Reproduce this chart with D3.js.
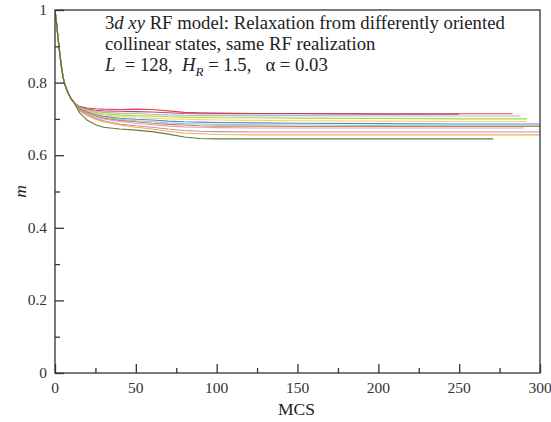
<!DOCTYPE html>
<html>
<head>
<meta charset="utf-8">
<script src="https://cdn.jsdelivr.net/npm/d3@7"></script>
<style>
  body { margin: 0; background: #fff; }
  svg text { font-family: "Liberation Serif", "DejaVu Serif", "Times New Roman", Times, serif; }
</style>
</head>
<body>
<svg id="chart" width="551" height="422"></svg>
<script>
// sample times (MCS) shared by all runs
const times = [0, 1, 2, 3, 4, 5, 6, 8, 10, 12, 15, 20, 25, 30, 40, 50, 60, 70, 80, 90, 100, 125, 150, 200, 250];
const early = [1.0, 0.962, 0.918, 0.878, 0.843, 0.815, 0.796, 0.772, 0.755, 0.744];

const runColors = ["#e0302c", "#a03a86", "#a9b79c", "#9ccc3c", "#f2d44e", "#4f74c4",
  "#74c8e6", "#c27a34", "#e493a8", "#b9869c", "#f0a23c", "#496f2c"];
const runEnds = [283, 250, 288, 292, 292, 300, 300, 300, 290, 300, 300, 271];
const runValues = [
  [0.735, 0.730, 0.728, 0.727, 0.726, 0.727, 0.726, 0.722, 0.718, 0.717, 0.716, 0.715, 0.715, 0.714, 0.714],
  [0.733, 0.727, 0.724, 0.722, 0.721, 0.720, 0.719, 0.717, 0.715, 0.714, 0.714, 0.714, 0.714, 0.713, 0.713],
  [0.732, 0.725, 0.721, 0.718, 0.716, 0.715, 0.713, 0.711, 0.710, 0.709, 0.709, 0.709, 0.709, 0.708, 0.708],
  [0.731, 0.723, 0.718, 0.714, 0.711, 0.709, 0.708, 0.706, 0.705, 0.704, 0.703, 0.703, 0.702, 0.701, 0.700],
  [0.730, 0.721, 0.715, 0.711, 0.707, 0.704, 0.702, 0.700, 0.699, 0.698, 0.697, 0.696, 0.695, 0.694, 0.693],
  [0.729, 0.719, 0.712, 0.707, 0.702, 0.699, 0.697, 0.694, 0.692, 0.691, 0.690, 0.689, 0.688, 0.687, 0.686],
  [0.728, 0.717, 0.710, 0.705, 0.699, 0.695, 0.692, 0.689, 0.687, 0.686, 0.685, 0.684, 0.683, 0.682, 0.681],
  [0.727, 0.716, 0.708, 0.702, 0.696, 0.692, 0.688, 0.685, 0.683, 0.681, 0.680, 0.680, 0.679, 0.679, 0.679],
  [0.726, 0.714, 0.706, 0.700, 0.693, 0.688, 0.684, 0.680, 0.678, 0.677, 0.676, 0.675, 0.675, 0.675, 0.675],
  [0.724, 0.711, 0.702, 0.695, 0.686, 0.681, 0.677, 0.672, 0.668, 0.666, 0.665, 0.664, 0.664, 0.664, 0.664],
  [0.723, 0.709, 0.699, 0.692, 0.683, 0.677, 0.672, 0.666, 0.661, 0.659, 0.657, 0.656, 0.656, 0.656, 0.656],
  [0.718, 0.696, 0.684, 0.677, 0.672, 0.669, 0.665, 0.658, 0.650, 0.646, 0.645, 0.645, 0.645, 0.645, 0.645]
];

const xTicks = [0, 50, 100, 150, 200, 250, 300];
const yTicks = [0, 0.2, 0.4, 0.6, 0.8, 1];

const svg = d3.select("#chart");
const margin = { top: 10, right: 11, bottom: 49, left: 55 };
const width = 551 - margin.left - margin.right;
const height = 422 - margin.top - margin.bottom;
const g = svg.append("g").attr("transform", `translate(${margin.left},${margin.top})`);

const x = d3.scaleLinear().domain([0, 300]).range([0, width]);
const y = d3.scaleLinear().domain([0, 1]).range([height, 0]);

const line = d3.line().x((d) => x(d[0])).y((d) => y(d[1]));

g.append("defs").append("clipPath").attr("id", "clip")
  .append("rect").attr("width", width).attr("height", height);

const runs = runValues.map((vals, i) => {
  const all = early.concat(vals);
  const pts = times.map((t, k) => [t, all[k]]).filter((p) => p[0] <= runEnds[i]);
  pts.push([runEnds[i], all[all.length - 1]]);
  return { color: runColors[i], pts };
});

g.append("g").attr("clip-path", "url(#clip)")
  .selectAll("path")
  .data(runs)
  .join("path")
  .attr("d", (d) => line(d.pts))
  .attr("fill", "none")
  .attr("stroke", (d) => d.color)
  .attr("stroke-width", 1.1)
  .attr("stroke-opacity", 0.9);

// frame
g.append("rect").attr("width", width).attr("height", height)
  .attr("fill", "none").attr("stroke", "#333").attr("stroke-width", 1.3);

// x axis, ticks pointing inward
const xAxisG = g.append("g").attr("transform", `translate(0,${height})`);
xAxisG.call(d3.axisTop(x).tickValues(d3.range(0, 301, 25)).tickSize(8).tickFormat(""));
xAxisG.selectAll(".tick line").attr("stroke", "#333").attr("stroke-width", 1.3)
  .attr("y2", (d) => (d % 50 === 0 ? -9 : -5));
xAxisG.select(".domain").remove();
xAxisG.selectAll(".xlab").data(xTicks).join("text")
  .attr("class", "xlab")
  .attr("x", (d) => x(d)).attr("y", 20)
  .attr("text-anchor", "middle")
  .attr("font-size", 15.5).attr("fill", "#333")
  .text((d) => d);

// y axis, ticks pointing inward
const yAxisG = g.append("g");
yAxisG.call(d3.axisRight(y).tickValues(d3.range(0, 11).map((k) => k / 10)).tickFormat(""));
yAxisG.selectAll(".tick line").attr("stroke", "#333").attr("stroke-width", 1.3)
  .attr("x2", (d, i) => (i % 2 === 0 ? 9 : 5));
yAxisG.select(".domain").remove();
yAxisG.selectAll(".ylab").data(yTicks).join("text")
  .attr("class", "ylab")
  .attr("x", -8).attr("y", (d) => y(d) + 5)
  .attr("text-anchor", "end")
  .attr("font-size", 15.5).attr("fill", "#333")
  .text((d) => d);

// axis titles
svg.append("text")
  .attr("x", 296.5).attr("y", 415)
  .attr("text-anchor", "middle").attr("font-size", 17.5).attr("fill", "#222")
  .text("MCS");
svg.append("text")
  .attr("transform", `translate(26,${margin.top + height / 2}) rotate(-90)`)
  .attr("text-anchor", "middle").attr("font-size", 17.5).attr("font-style", "italic").attr("fill", "#222")
  .text("m");

// annotation
const note = svg.append("text").attr("font-size", 18.7).attr("fill", "#222");
const l1 = note.append("tspan").attr("x", 105).attr("y", 29);
l1.append("tspan").text("3");
l1.append("tspan").attr("font-style", "italic").text("d xy");
l1.append("tspan").text(" RF model: Relaxation from differently oriented");
note.append("tspan").attr("x", 105).attr("y", 50).text("collinear states, same RF realization");
const l3 = note.append("tspan").attr("x", 105).attr("y", 71);
l3.append("tspan").attr("font-style", "italic").text("L");
l3.append("tspan").text("\u00a0 = 128,\u00a0 ");
l3.append("tspan").attr("font-style", "italic").text("H");
l3.append("tspan").attr("font-style", "italic").attr("font-size", 13).attr("dy", 5).text("R");
l3.append("tspan").attr("dy", -5).text(" = 1.5,\u00a0\u00a0 \u03b1 = 0.03");
</script>
</body>
</html>
